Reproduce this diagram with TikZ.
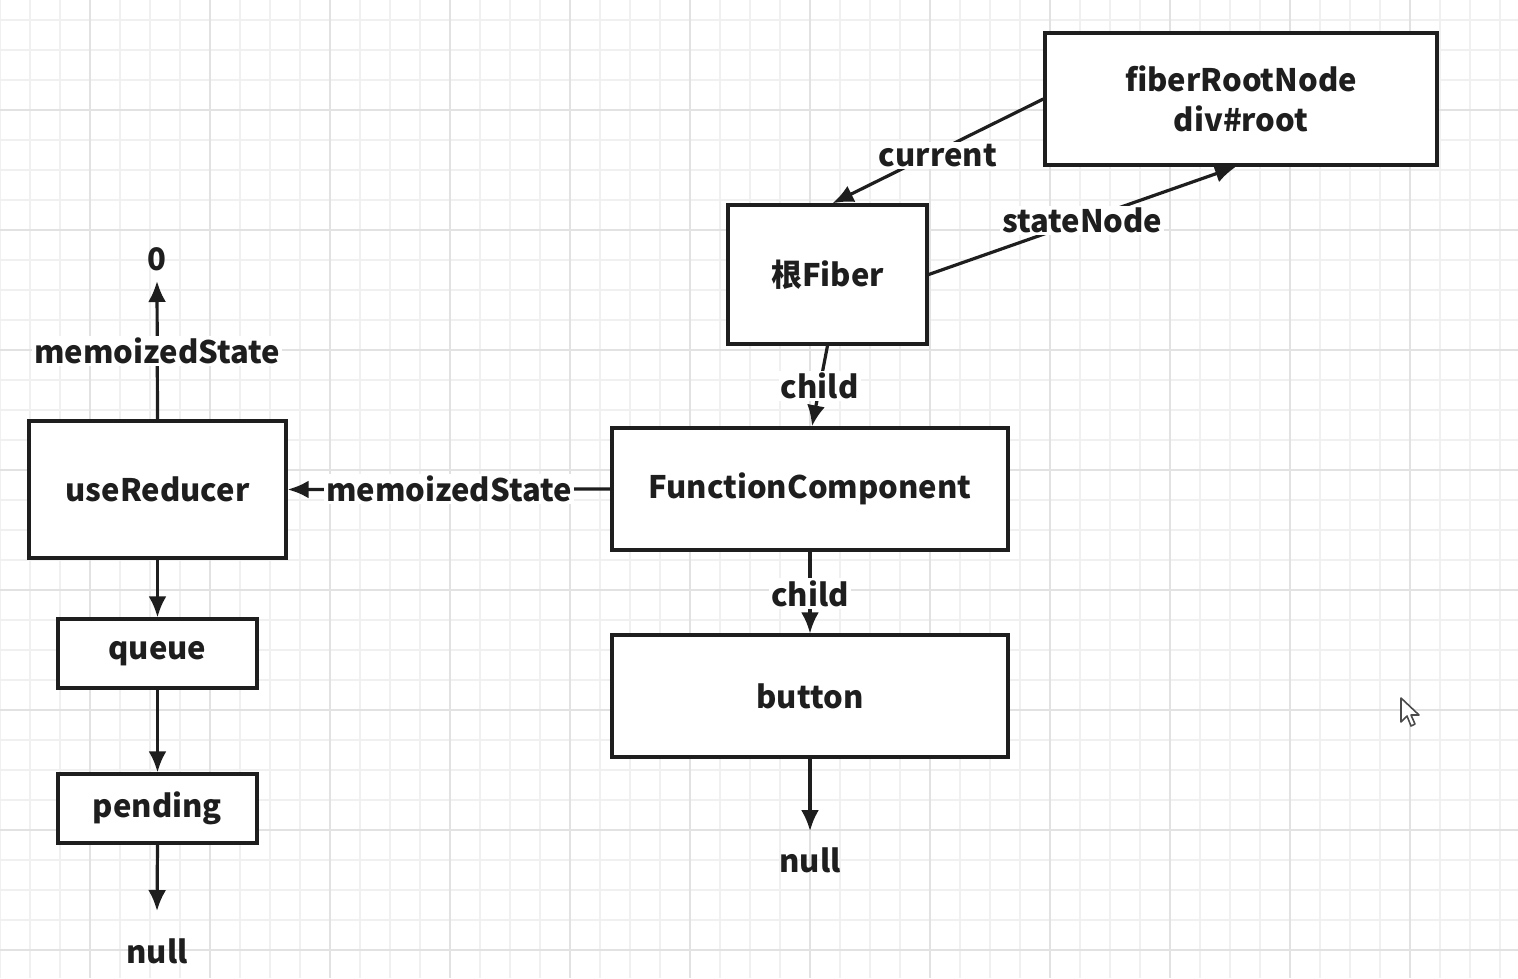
\documentclass[tikz,border=0pt]{standalone}
\usepackage{fontspec}
\setmainfont{Noto Sans CJK SC}
\usetikzlibrary{arrows.meta}
\definecolor{gridminor}{HTML}{F0F0F0}
\definecolor{gridmajor}{HTML}{E2E2E2}
\definecolor{ink}{HTML}{1E1E1E}
\begin{document}
\begin{tikzpicture}[x=1pt,y=-1pt,
  txt/.style={font=\fontsize{31}{36}\selectfont\bfseries, text=ink},
  box/.style={txt, draw=ink, line width=3.4pt, inner sep=0pt, fill=white, align=center},
  lbl/.style={txt, fill=white, inner sep=2pt},
  conn/.style={draw=ink, line width=3.2pt},
  arr/.style={conn, -{Latex[length=21pt,width=18pt]}},
]
\useasboundingbox (0,0) rectangle (1518,978);
\fill[white] (0,0) rectangle (1518,978);
% grid
\foreach \x in {0,30,...,1530} \draw[gridminor, line width=1.2pt] (\x,0) -- (\x,978);
\foreach \y in {20,50,...,980} \draw[gridminor, line width=1.2pt] (0,\y) -- (1518,\y);
\foreach \x in {90,210,...,1530} \draw[gridmajor, line width=1.4pt] (\x,0) -- (\x,978);
\foreach \y in {110,230,...,980} \draw[gridmajor, line width=1.4pt] (0,\y) -- (1518,\y);

% boxes
\node[box, minimum width=392pt, minimum height=132pt] (fr) at (1241,99) {fiberRootNode\\[4pt]div\#root};
\node[box, minimum width=199pt, minimum height=139pt] (fib) at (827.5,274.5) {根Fiber};
\node[box, minimum width=396pt, minimum height=122pt] (fc) at (810,489) {FunctionComponent};
\node[box, minimum width=396pt, minimum height=122pt] (bt) at (810,696) {button};
\node[box, minimum width=257pt, minimum height=137pt] (ur) at (157.5,489.5) {useReducer};
\node[box, minimum width=199pt, minimum height=69pt] (qu) at (157.5,653.5) {queue};
\node[box, minimum width=199pt, minimum height=69pt] (pe) at (157.5,808.5) {pending};

% free texts
\node[txt] (zero) at (157,259) {0};
\node[txt] (null1) at (810,860) {null};
\node[txt] (null2) at (157,951) {null};
\coordinate (zerotip) at (157,281);
\coordinate (null1tip) at (810,831);
\coordinate (null2tip) at (157,911);

% connectors
\draw[arr] (fr.west) -- ([xshift=5pt]fib.north) node[lbl, pos=0.5, yshift=-4pt] {current};
\draw[arr] (fib.east) -- ([xshift=-5pt]fr.south) node[lbl, pos=0.5] {stateNode};
\draw[arr] (fib.south) -- ([xshift=2pt]fc.north) node[lbl, pos=0.5] {child};
\draw[arr] (fc.south) -- (bt.north) node[lbl, pos=0.5, yshift=-1pt] {child};
\draw[arr] (fc.west) -- (ur.east) node[lbl, pos=0.5] {memoizedState};
\draw[arr] (ur.north) -- (zerotip) node[lbl, pos=0.5, yshift=-1pt] {memoizedState};
\draw[arr] (ur.south) -- (qu.north);
\draw[arr] (qu.south) -- (pe.north);
\draw[arr] (pe.south) -- (null2tip);
\draw[arr] (bt.south) -- (null1tip);

% mouse cursor
\draw[ink!80, line width=1.6pt, fill=white, line join=round]
  (1401,698) -- (1401,722) -- (1407,716) -- (1411,726) -- (1415,724) -- (1411,715) -- (1419,715) -- cycle;
\end{tikzpicture}
\end{document}
